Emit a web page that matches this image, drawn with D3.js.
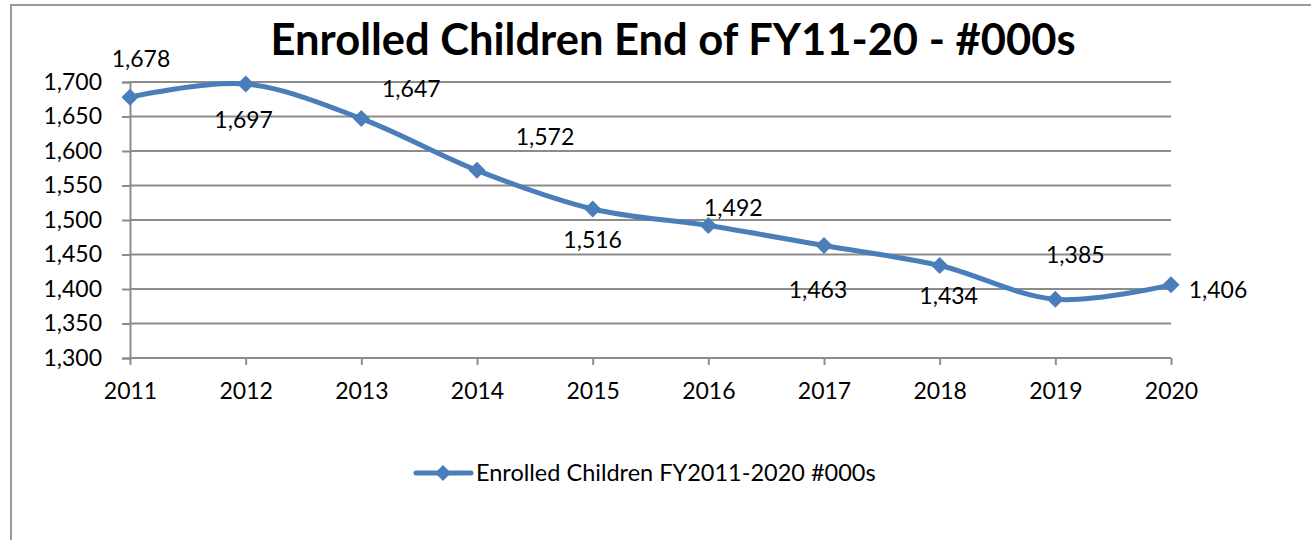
<!DOCTYPE html>
<html>
<head>
<meta charset="utf-8">
<script src="https://cdn.jsdelivr.net/npm/d3@7"></script>
<style>
  html, body { margin: 0; padding: 0; background: #fff; }
  svg { display: block; font-family: Lato, "Open Sans", sans-serif; }
</style>
</head>
<body>
<svg id="chart"></svg>
<script>
// values (#000s)
const years = ["2011", "2012", "2013", "2014", "2015", "2016", "2017", "2018", "2019", "2020"];
const enrolled = [1678, 1697, 1647, 1572, 1516, 1492, 1463, 1434, 1385, 1406];
const yTicks = [1300, 1350, 1400, 1450, 1500, 1550, 1600, 1650, 1700];
const titleText = "Enrolled Children End of FY11-20 - #000s";
const seriesName = "Enrolled Children FY2011-2020 #000s";

// where each data label sits relative to its marker (dx, dy to baseline)
const labelOffsets = [[11, -30], [-2, 44], [50, -22], [68, -25], [0, 39],
  [25, -10], [-6, 52], [9, 38], [20, -36], [47, 13]];

(() => {
  const width = 1311, height = 540;
  const lineColor = "#4a7ebb", gridColor = "#8c8c8c";
  const fmt = d3.format(",");

  const svg = d3.select("#chart")
    .attr("width", width)
    .attr("height", height);

  // outer chart border (runs past the right and bottom edges)
  svg.append("rect")
    .attr("x", 11).attr("y", 5)
    .attr("width", 1400).attr("height", 600)
    .attr("fill", "none")
    .attr("stroke", "#999")
    .attr("stroke-width", 2);

  const x = d3.scalePoint().domain(years).range([130, 1171]);
  const y = d3.scaleLinear().domain([1300, 1700]).range([358, 82]);

  // gridlines
  svg.append("g")
    .selectAll("line")
    .data(yTicks.slice(1))
    .enter().append("line")
    .attr("x1", 130).attr("x2", 1171)
    .attr("y1", d => y(d)).attr("y2", d => y(d))
    .attr("stroke", gridColor)
    .attr("stroke-width", 2);

  // y axis
  const yAxis = svg.append("g")
    .attr("transform", "translate(130,0)")
    .call(d3.axisLeft(y).tickValues(yTicks).tickFormat(fmt).tickSize(8).tickPadding(20));
  yAxis.select(".domain").attr("stroke", gridColor).attr("stroke-width", 2);
  yAxis.selectAll(".tick line").attr("stroke", gridColor).attr("stroke-width", 2);
  yAxis.selectAll(".tick text")
    .attr("fill", "#000")
    .style("font-size", "23px")
    .style("font-family", "Lato, 'Open Sans', sans-serif");

  // x axis
  const xAxis = svg.append("g")
    .attr("transform", "translate(0,358)")
    .call(d3.axisBottom(x).tickSize(7).tickSizeOuter(0).tickPadding(18));
  xAxis.select(".domain").attr("stroke", gridColor).attr("stroke-width", 2)
    .attr("d", "M130,0H1171");
  xAxis.selectAll(".tick line").attr("stroke", gridColor).attr("stroke-width", 2);
  xAxis.selectAll(".tick text")
    .attr("fill", "#000")
    .style("font-size", "23px")
    .style("font-family", "Lato, 'Open Sans', sans-serif");

  // smoothed series line
  const line = d3.line()
    .x((d, i) => x(years[i]))
    .y(d => y(d))
    .curve(d3.curveCatmullRom.alpha(0));
  svg.append("path")
    .datum(enrolled)
    .attr("d", line)
    .attr("fill", "none")
    .attr("stroke", lineColor)
    .attr("stroke-width", 5)
    .attr("stroke-linecap", "round");

  const diamond = r => `M0,${-r}L${r},0L0,${r}L${-r},0Z`;
  svg.append("g")
    .selectAll("path")
    .data(enrolled)
    .enter().append("path")
    .attr("d", diamond(8.5))
    .attr("transform", (d, i) => "translate(" + x(years[i]) + "," + y(d) + ")")
    .attr("fill", lineColor);

  // data labels
  svg.append("g")
    .selectAll("text")
    .data(enrolled)
    .enter().append("text")
    .attr("x", (d, i) => x(years[i]) + labelOffsets[i][0])
    .attr("y", (d, i) => y(d) + labelOffsets[i][1])
    .attr("text-anchor", "middle")
    .style("font-size", "23px")
    .text(d => fmt(d));

  // title
  svg.append("text")
    .attr("x", 673).attr("y", 55)
    .attr("text-anchor", "middle")
    .style("font-size", "43.5px")
    .style("font-weight", "bold")
    .text(titleText);

  // legend
  const lg = svg.append("g").attr("transform", "translate(0,473)");
  lg.append("line")
    .attr("x1", 416).attr("x2", 471)
    .attr("stroke", lineColor).attr("stroke-width", 5)
    .attr("stroke-linecap", "round");
  lg.append("path")
    .attr("d", diamond(8))
    .attr("transform", "translate(443,0)")
    .attr("fill", lineColor);
  lg.append("text")
    .attr("x", 476).attr("y", 8)
    .style("font-size", "23.5px")
    .text(seriesName);
})();
</script>
</body>
</html>
